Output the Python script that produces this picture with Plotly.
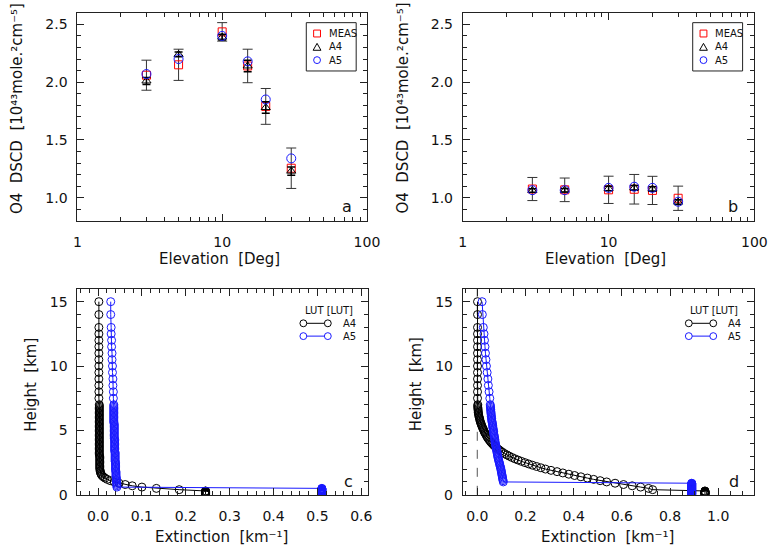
import plotly.graph_objects as go

W, H = 783, 559

# ---------------- data: panels a / b ----------------
elev = [3, 5, 10, 15, 20, 30]

a_meas = [2.06, 2.15, 2.435, 2.14, 1.79, 1.255]
a_meas_err = [0.13, 0.135, 0.08, 0.145, 0.155, 0.175]
a_a4 = [2.01, 2.24, 2.39, 2.14, 1.78, 1.23]
a_a4_err = [0.03, 0.02, 0.025, 0.05, 0.05, 0.035]
a_a5 = [2.07, 2.20, 2.40, 2.18, 1.85, 1.34]

b_meas = [1.075, 1.068, 1.068, 1.073, 1.063, 0.995]
b_meas_err = [0.10, 0.102, 0.118, 0.128, 0.122, 0.105]
b_a4 = [1.062, 1.065, 1.080, 1.085, 1.075, 0.962]
b_a4_err = [0.015, 0.015, 0.02, 0.02, 0.02, 0.02]
b_a5 = [1.065, 1.065, 1.085, 1.095, 1.085, 0.965]

# ---------------- data: panels c / d (LUT profiles) ----------------
height = [
    0.0, 0.1, 0.2, 0.3, 0.4, 0.5, 0.6, 0.7, 0.8, 0.9,
    1.0, 1.1, 1.2, 1.3, 1.4, 1.5, 1.6, 1.7, 1.8, 1.9,
    2.0, 2.1, 2.2, 2.3, 2.4, 2.5, 2.6, 2.7, 2.8, 2.9,
    3.0, 3.1, 3.2, 3.3, 3.4, 3.5, 3.6, 3.7, 3.8, 3.9,
    4.0, 4.1, 4.2, 4.3, 4.4, 4.5, 4.6, 4.7, 4.8, 4.9,
    5.0, 5.1, 5.2, 5.3, 5.4, 5.5, 5.6, 5.7, 5.8, 5.9,
    6.0, 6.1, 6.2, 6.3, 6.4, 6.5, 6.6, 6.7, 6.8, 6.9,
    7.0, 7.5, 8.0, 8.5, 9.0, 9.5, 10.0, 10.5, 11.0, 11.5,
    12.0, 12.5, 13.0, 14.0, 15.0,
]

c_a4 = [
    0.245, 0.245, 0.245, 0.245, 0.185, 0.133, 0.100, 0.078, 0.062, 0.048,
    0.037, 0.028, 0.021, 0.016, 0.012, 0.009, 0.007, 0.006, 0.005, 0.005,
    0.004, 0.004, 0.004, 0.004, 0.004, 0.004, 0.004, 0.004, 0.004, 0.004,
    0.004, 0.003, 0.003, 0.003, 0.003, 0.003, 0.003, 0.003, 0.003, 0.003,
    0.003, 0.003, 0.003, 0.003, 0.003, 0.003, 0.003, 0.003, 0.003, 0.003,
    0.003, 0.003, 0.003, 0.003, 0.003, 0.003, 0.003, 0.003, 0.003, 0.003,
    0.003, 0.003, 0.003, 0.003, 0.003, 0.003, 0.003, 0.003, 0.003, 0.003,
    0.003, 0.002, 0.002, 0.002, 0.002, 0.002, 0.002, 0.002, 0.002, 0.002,
    0.002, 0.002, 0.002, 0.002, 0.002,
]

c_a5 = [
    0.510, 0.510, 0.510, 0.510, 0.510, 0.510, 0.043, 0.043, 0.043, 0.043,
    0.042, 0.042, 0.042, 0.042, 0.041, 0.041, 0.041, 0.041, 0.041, 0.040,
    0.040, 0.040, 0.040, 0.040, 0.040, 0.040, 0.039, 0.039, 0.039, 0.039,
    0.039, 0.039, 0.039, 0.039, 0.038, 0.038, 0.038, 0.038, 0.038, 0.038,
    0.038, 0.038, 0.038, 0.038, 0.037, 0.037, 0.037, 0.037, 0.037, 0.037,
    0.037, 0.037, 0.037, 0.037, 0.037, 0.037, 0.036, 0.036, 0.036, 0.036,
    0.036, 0.036, 0.036, 0.036, 0.036, 0.036, 0.036, 0.036, 0.036, 0.036,
    0.036, 0.035, 0.035, 0.034, 0.034, 0.033, 0.033, 0.032, 0.032, 0.031,
    0.031, 0.030, 0.030, 0.029, 0.029,
]

d_a4 = [
    0.945, 0.945, 0.945, 0.945, 0.728, 0.711, 0.678, 0.643, 0.607, 0.572,
    0.537, 0.510, 0.483, 0.457, 0.430, 0.404, 0.380, 0.355, 0.331, 0.306,
    0.283, 0.264, 0.246, 0.229, 0.213, 0.198, 0.183, 0.169, 0.156, 0.144,
    0.133, 0.123, 0.113, 0.105, 0.097, 0.090, 0.083, 0.077, 0.071, 0.066,
    0.061, 0.056, 0.052, 0.048, 0.044, 0.041, 0.038, 0.035, 0.032, 0.029,
    0.027, 0.025, 0.022, 0.020, 0.018, 0.016, 0.014, 0.012, 0.011, 0.010,
    0.008, 0.007, 0.006, 0.005, 0.004, 0.004, 0.003, 0.003, 0.002, 0.002,
    0.002, 0.001, 0.001, 0.001, 0.001, 0.001, 0.001, 0.001, 0.001, 0.001,
    0.001, 0.001, 0.001, 0.001, 0.001,
]

d_a5 = [
    0.890, 0.890, 0.890, 0.890, 0.890, 0.890, 0.890, 0.890, 0.890, 0.890,
    0.108, 0.107, 0.106, 0.105, 0.104, 0.103, 0.102, 0.101, 0.100, 0.099,
    0.098, 0.097, 0.095, 0.094, 0.093, 0.091, 0.090, 0.089, 0.087, 0.086,
    0.085, 0.084, 0.083, 0.082, 0.081, 0.080, 0.079, 0.078, 0.077, 0.076,
    0.075, 0.074, 0.073, 0.073, 0.072, 0.071, 0.070, 0.069, 0.068, 0.068,
    0.067, 0.066, 0.065, 0.064, 0.064, 0.063, 0.062, 0.061, 0.060, 0.060,
    0.059, 0.058, 0.058, 0.057, 0.057, 0.056, 0.056, 0.055, 0.055, 0.054,
    0.054, 0.052, 0.049, 0.046, 0.044, 0.041, 0.038, 0.036, 0.034, 0.032,
    0.030, 0.028, 0.025, 0.021, 0.020,
]

# finely sampled surface layer (dense, filled-looking blobs at the ground)
surface_height = [
    0.00, 0.02, 0.04, 0.06, 0.08, 0.10, 0.12, 0.14, 0.16, 0.18,
    0.20, 0.22, 0.24, 0.26, 0.28, 0.30, 0.32, 0.34, 0.36, 0.38,
    0.40, 0.42, 0.44, 0.46, 0.48, 0.50, 0.52, 0.54, 0.56, 0.58,
    0.60, 0.62, 0.64, 0.66, 0.68, 0.70, 0.72, 0.74, 0.76, 0.78,
    0.80, 0.82, 0.84, 0.86, 0.88, 0.90,
]
# surface-layer top height [km] of each profile: c A4, c A5, d A4, d A5
surface_top = [0.30, 0.50, 0.30, 0.90]

legend_top = ["MEAS", "A4", "A5"]
legend_bot = ["A4", "A5"]
legend_bot_title = "LUT [LUT]"
panel_tags = ["a", "b", "c", "d"]

# ---------------- helpers ----------------
FONT = "DejaVu Sans"
TXT = "#111111"
BLUE = "#1a1aff"


def px(x):
    return x / W


def py(y):
    return 1 - y / H


def xdom(x0, x1):
    return [px(x0), px(x1)]


def ydom(y0, y1):
    return [py(y1), py(y0)]


def profile(values, top):
    """profile points + the dense surface-layer samples (same value) below `top`"""
    surf_val = values[0]
    pts = [(h, surf_val) for h in surface_height if h <= top + 1e-9]
    pts += [(h, v) for h, v in zip(height, values) if h > top + 1e-9]
    pts.sort()
    return [p[1] for p in pts], [p[0] for p in pts]


fig = go.Figure()

# panels a, b
for i, (meas, merr, a4, a4err, a5) in enumerate(
    [(a_meas, a_meas_err, a_a4, a_a4_err, a_a5),
     (b_meas, b_meas_err, b_a4, b_a4_err, b_a5)]):
    xa = "x" if i == 0 else "x2"
    ya = "y" if i == 0 else "y2"
    fig.add_trace(go.Scatter(
        x=elev, y=meas, mode="markers", xaxis=xa, yaxis=ya, showlegend=False,
        marker=dict(symbol="square-open", size=8, color="red", line=dict(width=1)),
        error_y=dict(type="data", array=merr, color="#333333", thickness=1, width=5)))
    fig.add_trace(go.Scatter(
        x=elev, y=a4, mode="markers", xaxis=xa, yaxis=ya, showlegend=False,
        marker=dict(symbol="triangle-up-open", size=8, color="black", line=dict(width=1)),
        error_y=dict(type="data", array=a4err, color="black", thickness=1.5, width=4)))
    fig.add_trace(go.Scatter(
        x=elev, y=a5, mode="markers", xaxis=xa, yaxis=ya, showlegend=False,
        marker=dict(symbol="circle-open", size=9, color=BLUE, line=dict(width=1))))

# panels c, d
profiles = [(c_a4, c_a5), (d_a4, d_a5)]
for i, (p4, p5) in enumerate(profiles):
    xa = "x3" if i == 0 else "x4"
    ya = "y3" if i == 0 else "y4"
    for vals, top, col in [(p4, surface_top[2 * i], "black"), (p5, surface_top[2 * i + 1], BLUE)]:
        xs, hs = profile(vals, top)
        fig.add_trace(go.Scatter(
            x=xs, y=hs, mode="lines+markers", xaxis=xa, yaxis=ya, showlegend=False,
            line=dict(color=col, width=1),
            marker=dict(symbol="circle-open", size=8, color=col, line=dict(width=1))))

common = dict(
    showline=True, linecolor="#222", linewidth=1, mirror="allticks",
    ticks="inside", ticklen=7, tickwidth=1, tickcolor="#222",
    showgrid=False, zeroline=False,
    tickfont=dict(family=FONT, size=14, color=TXT),
)
minor_common = dict(ticks="inside", ticklen=4, tickwidth=1, tickcolor="#222", showgrid=False)

log_minor = [2, 3, 4, 5, 6, 7, 8, 9, 20, 30, 40, 50, 60, 70, 80, 90]

fig.update_layout(
    width=W, height=H, margin=dict(l=0, r=0, t=0, b=0),
    paper_bgcolor="white", plot_bgcolor="white",
    xaxis=dict(domain=xdom(75, 371), anchor="y", type="log", range=[0, 2],
               tickvals=[1, 10, 100], ticktext=["1", "10", "100"],
               minor=dict(tickvals=log_minor, **minor_common), ticklabelstandoff=8, **common),
    yaxis=dict(domain=ydom(13, 224), anchor="x", range=[0.8, 2.6], dtick=0.5, tick0=0,
               tickformat=".1f", minor=dict(dtick=0.1, **minor_common), ticklabelstandoff=6, **common),
    xaxis2=dict(domain=xdom(469, 767), anchor="y2", type="log", range=[0, 2],
                tickvals=[1, 10, 100], ticktext=["1", "10", "100"],
                minor=dict(tickvals=log_minor, **minor_common), ticklabelstandoff=8, **common),
    yaxis2=dict(domain=ydom(13, 224), anchor="x2", range=[0.8, 2.6], dtick=0.5, tick0=0,
                tickformat=".1f", minor=dict(dtick=0.1, **minor_common), ticklabelstandoff=6, **common),
    xaxis3=dict(domain=xdom(75, 372), anchor="y3", range=[-0.047, 0.615], dtick=0.1, tick0=0,
                tickformat=".1f", minor=dict(dtick=0.02, **minor_common), ticklabelstandoff=8, **common),
    yaxis3=dict(domain=ydom(293, 502), anchor="x3", range=[0, 16], dtick=5, tick0=0,
                minor=dict(dtick=1, **minor_common), ticklabelstandoff=6, **common),
    xaxis4=dict(domain=xdom(469, 767), anchor="y4", range=[-0.06, 1.15], dtick=0.2, tick0=0,
                tickformat=".1f", minor=dict(dtick=0.05, **minor_common), ticklabelstandoff=8, **common),
    yaxis4=dict(domain=ydom(293, 502), anchor="x4", range=[0, 16], dtick=5, tick0=0,
                minor=dict(dtick=1, **minor_common), ticklabelstandoff=6, **common),
)

# dashed zero line in panel d
fig.add_shape(type="line", xref="x4", yref="y4 domain", x0=0, x1=0, y0=0, y1=1,
              line=dict(color="#555", width=1, dash="dash"), layer="below")

ann = []


def text(x, y, s, size=15, angle=0, xanchor="center"):
    ann.append(dict(x=px(x), y=py(y), xref="paper", yref="paper", text=s, showarrow=False,
                    textangle=angle, xanchor=xanchor, yanchor="middle",
                    font=dict(family=FONT, size=size, color=TXT)))


ytitle_top = "O4  DSCD  [10\u2074\u00b3mole.\u00b2cm\u207b\u2075]"
xtitle_bot = "Extinction  [km\u207b\u00b9]"
text(14, 110, ytitle_top, 15, -90)
text(408, 110, ytitle_top, 15, -90)
text(28, 390, "Height  [km]", 15, -90)
text(422, 390, "Height  [km]", 15, -90)
text(220, 263, "Elevation  [Deg]", 15)
text(615, 263, "Elevation  [Deg]", 15)
text(222, 545, xtitle_bot, 15)
text(617, 545, xtitle_bot, 15)
for tag, (x, y) in zip(panel_tags, [(351, 210), (745, 210), (352, 488), (746, 488)]):
    text(x, y, tag, 16)

shapes = []
# legends of panels a / b
for off in (0, 395):
    x0, x1, y0, y1 = 309 + off, 360 + off, 23, 72
    shapes.append(dict(type="rect", xref="paper", yref="paper", x0=px(x0), x1=px(x1),
                       y0=py(y1), y1=py(y0), line=dict(color="#222", width=1)))
    cx = 320 + off
    rows = [34, 47.5, 61]
    r = 3.5
    shapes.append(dict(type="rect", xref="paper", yref="paper", x0=px(cx - r), x1=px(cx + r),
                       y0=py(rows[0] + r), y1=py(rows[0] - r), line=dict(color="red", width=1)))
    shapes.append(dict(type="path", xref="paper", yref="paper",
                       path=f"M {px(cx - 4)},{py(rows[1] + 3.5)} L {px(cx + 4)},{py(rows[1] + 3.5)} "
                            f"L {px(cx)},{py(rows[1] - 3.5)} Z",
                       line=dict(color="black", width=1)))
    shapes.append(dict(type="circle", xref="paper", yref="paper", x0=px(cx - r), x1=px(cx + r),
                       y0=py(rows[2] + r), y1=py(rows[2] - r), line=dict(color=BLUE, width=1)))
    for lab, ry in zip(legend_top, rows):
        text(330 + off, ry, lab, 10, 0, "left")

# legends of panels c / d
for off in (0, 394):
    text(332 + off, 315, legend_bot_title, 10)
    for lab, ry, col in zip(legend_bot, [328, 341], ["black", BLUE]):
        xa0, xa1 = 306 + off, 331 + off
        shapes.append(dict(type="line", xref="paper", yref="paper", x0=px(xa0), x1=px(xa1),
                           y0=py(ry), y1=py(ry), line=dict(color=col, width=1)))
        for cxx in (xa0, xa1):
            shapes.append(dict(type="circle", xref="paper", yref="paper",
                               x0=px(cxx - 3.5), x1=px(cxx + 3.5), y0=py(ry + 3.5), y1=py(ry - 3.5),
                               fillcolor="white", line=dict(color=col, width=1)))
        text(344 + off, ry, lab, 10, 0, "left")

for s in shapes:
    fig.add_shape(**s)
fig.update_layout(annotations=ann)

fig.write_html("out.html")
